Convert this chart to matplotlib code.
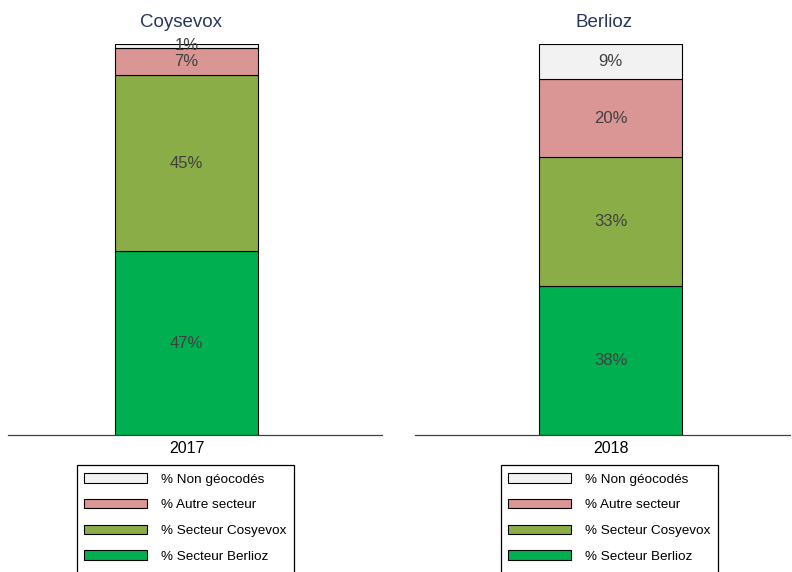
import matplotlib
matplotlib.use("Agg")
import matplotlib.pyplot as plt
from matplotlib.patches import Patch, Rectangle

plt.rcParams["font.family"] = ["Liberation Sans", "DejaVu Sans"]

# Share of addresses per sector, one stacked bar per school
sectors = ["% Secteur Berlioz", "% Secteur Cosyevox", "% Autre secteur", "% Non géocodés"]
colors = ["#00b050", "#8bad47", "#da9694", "#f2f2f2"]

coysevox_title = "Coysevox"
coysevox_year = ["2017"]
coysevox_shares = [47, 45, 7, 1]

berlioz_title = "Berlioz"
berlioz_year = ["2018"]
berlioz_shares = [38, 33, 20, 9]

W, H = 792, 572
fig = plt.figure(figsize=(W / 100, H / 100), dpi=100)


def px_axes(x0, x1, y_top, y_bot):
    return fig.add_axes([x0 / W, 1 - y_bot / H, (x1 - x0) / W, (y_bot - y_top) / H])


def draw_panel(ax, title, year, shares, xlim, title_x, legend_x):
    bottom = 0
    for share, color in zip(shares, colors):
        ax.bar(0, share, width=1.0, bottom=bottom, color=color,
               edgecolor="black", linewidth=0.8, zorder=2)
        ax.text(0, bottom + share / 2, f"{share}%", ha="center", va="center",
                fontsize=12, color="#404040", zorder=3)
        bottom += share
    ax.set_xlim(*xlim)
    ax.set_ylim(0, 100)
    ax.set_xticks([0])
    ax.set_xticklabels(year, fontsize=11.5)
    ax.tick_params(axis="x", length=0, pad=4)
    ax.set_yticks([])
    for side in ["top", "left", "right"]:
        ax.spines[side].set_visible(False)
    ax.spines["bottom"].set_color("#404040")
    ax.spines["bottom"].set_linewidth(0.9)
    ax.patch.set_alpha(0)
    ax.set_title(title, fontsize=13.5, color="#28375e", pad=12, x=title_x)

    handles = [Patch(facecolor=c, edgecolor="black", linewidth=0.8, label=s)
               for s, c in zip(sectors, colors)][::-1]
    fig.legend(handles=handles, loc="upper left",
               bbox_to_anchor=(legend_x / W, 1 - 466 / H),
               fontsize=9.7, frameon=False,
               handlelength=4.67, handleheight=0.7, labelspacing=0.98,
               handletextpad=1.04, borderpad=0.55, borderaxespad=0)
    # legend box runs off the bottom edge of the figure
    fig.patches.append(Rectangle((legend_x / W, -0.02), 217 / W, 0.02 + 1 - 465 / H,
                                 transform=fig.transFigure, fill=False,
                                 edgecolor="black", linewidth=0.9))


ax1 = px_axes(8, 382, 44, 435)
draw_panel(ax1, coysevox_title, coysevox_year, coysevox_shares,
           (-1.248, 1.367), 0.4626, 77)

ax2 = px_axes(415, 790, 44, 435)
draw_panel(ax2, berlioz_title, berlioz_year, berlioz_shares,
           (-1.367, 1.255), 0.505, 501)

fig.savefig("out.png", dpi=100)
